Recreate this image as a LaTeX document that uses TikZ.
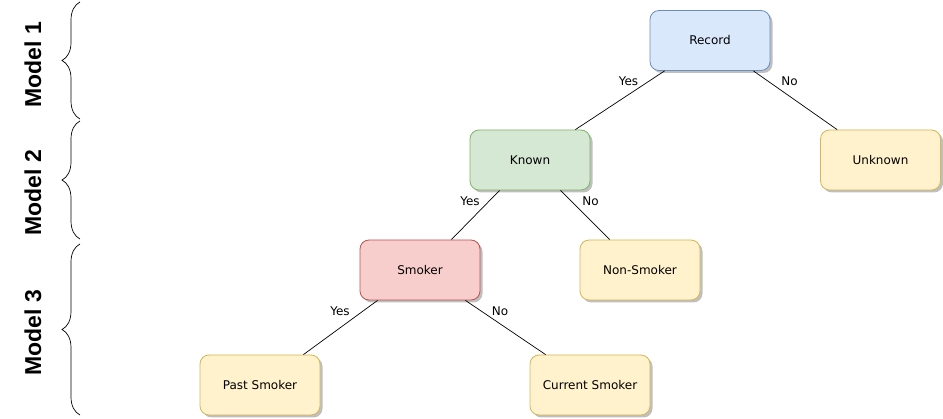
\documentclass[tikz,border=0pt]{standalone}
\usepackage{fontspec}
\setmainfont{DejaVu Sans}
\newfontfamily\modelfont{Liberation Sans}
\usetikzlibrary{calc,shadows,decorations.pathreplacing}
\definecolor{bluefill}{HTML}{DAE8FC}\definecolor{bluedraw}{HTML}{6C8EBF}
\definecolor{greenfill}{HTML}{D5E8D4}\definecolor{greendraw}{HTML}{82B366}
\definecolor{redfill}{HTML}{F8CECC}\definecolor{reddraw}{HTML}{B85450}
\definecolor{yelfill}{HTML}{FFF2CC}\definecolor{yeldraw}{HTML}{D6B656}
\tikzset{
  box/.style={rectangle, rounded corners=9pt, minimum width=120pt, minimum height=60pt,
    line width=0.8pt, font=\fontsize{12}{14}\selectfont,
    drop shadow={shadow xshift=2.5pt, shadow yshift=-2.5pt, opacity=0.25, fill=black}},
  bluebox/.style={box, fill=bluefill, draw=bluedraw},
  greenbox/.style={box, fill=greenfill, draw=greendraw},
  redbox/.style={box, fill=redfill, draw=reddraw},
  yelbox/.style={box, fill=yelfill, draw=yeldraw},
  conn/.style={line width=0.7pt, draw=black},
  elabel/.style={font=\fontsize{12}{14}\selectfont, inner sep=0pt},
  modellabel/.style={rotate=90, font=\modelfont\bfseries\fontsize{23}{27}\selectfont, inner sep=0pt},
  bracestyle/.style={line width=0.7pt, decorate, decoration={brace, amplitude=18pt}}
}
\begin{document}
\begin{tikzpicture}[x=1pt,y=-1pt]
\useasboundingbox (0,0) rectangle (943,419);
% nodes
\node[bluebox]  (rec) at (710,40.5) {Record};
\node[yelbox]   (unk) at (880.5,160) {Unknown};
\node[greenbox] (kn)  at (530,160) {Known};
\node[redbox]   (sm)  at (420,270) {Smoker};
\node[yelbox]   (ns)  at (640,270) {Non-Smoker};
\node[yelbox]   (ps)  at (260,385) {Past Smoker};
\node[yelbox]   (cs)  at (590,385) {Current Smoker};
% connectors
\draw[conn] ($(rec.south west)+(15,0)$) -- ($(kn.north east)+(-15,0)$);
\draw[conn] ($(rec.south east)+(-17,0)$) -- ($(unk.north west)+(17,0)$);
\draw[conn] ($(kn.south west)+(30,0)$) -- ($(sm.north east)+(-29,0)$);
\draw[conn] ($(kn.south east)+(-30,0)$) -- ($(ns.north west)+(30,0)$);
\draw[conn] ($(sm.south west)+(18,0)$) -- ($(ps.north east)+(-17,0)$);
\draw[conn] ($(sm.south east)+(-15,0)$) -- ($(cs.north west)+(16,0)$);
% edge labels
\node[elabel] (l1) at (628.5,81) {Yes};
\node[elabel] (l2) at (789.5,81) {No};
\node[elabel] (l3) at (470,201) {Yes};
\node[elabel] (l4) at (590.5,201) {No};
\node[elabel] (l5) at (340,311) {Yes};
\node[elabel] (l6) at (500,311) {No};
% model labels
\node[modellabel] (m1) at (33,64.5) {Model 1};
\node[modellabel] (m2) at (33,192.5) {Model 2};
\node[modellabel] (m3) at (33,332.5) {Model 3};
% braces
\draw[bracestyle] (80,119) -- (80,2);
\draw[bracestyle] (80,239) -- (80,121);
\draw[bracestyle] (80,415) -- (80,244);
\end{tikzpicture}
\end{document}
